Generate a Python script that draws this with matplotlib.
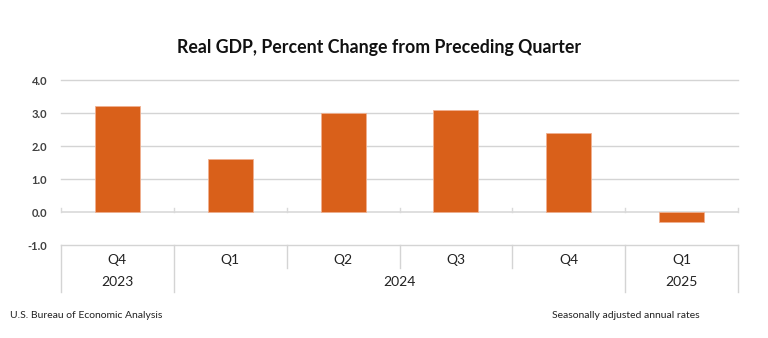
import matplotlib
matplotlib.use("Agg")
import matplotlib.pyplot as plt

plt.rcParams['font.family'] = ['Lato', 'DejaVu Sans']

quarters = ["Q4", "Q1", "Q2", "Q3", "Q4", "Q1"]
years = ["2023", "2024", "2025"]
year_span = [(0, 0), (1, 4), (5, 5)]   # first and last quarter index of each year
values = [3.2, 1.6, 3.0, 3.1, 2.4, -0.3]
yticks = [-1.0, 0.0, 1.0, 2.0, 3.0, 4.0]

bar_color = "#D9601A"
grid_color = "#D4D4D4"
text_color = "#222222"

fig = plt.figure(figsize=(7.68, 3.38), dpi=100)
ax = fig.add_axes([61 / 768, 1 - 245 / 338, 677 / 768, 165 / 338])

x = list(range(len(values)))
ax.bar(x, values, width=0.4, color=bar_color, edgecolor="#F0B090", linewidth=0.6, zorder=3)

ax.set_xlim(-0.5, len(values) - 0.5)
ax.set_ylim(-1, 4)
for s in ax.spines.values():
    s.set_visible(False)

# gridlines
for t in yticks:
    if t == 0:
        continue
    ax.axhline(t, color=grid_color, lw=1.0, zorder=1, clip_on=False)
ax.axhline(0, color="#D9D9D9", lw=1.2, zorder=2)

ax.set_yticks(yticks)
ax.set_yticklabels([f"{t:.1f}" for t in yticks], fontsize=8, fontweight="bold", color="#404040")
ax.tick_params(axis="y", length=0, pad=10)
ax.set_xticks([])

# category tick marks above zero line
for i in range(len(values) + 1):
    xb = i - 0.5
    ax.plot([xb, xb], [0, 0.12], color="#D9D9D9", lw=1.0, zorder=2, clip_on=False)

# table below the axes
row1 = -1 - 23 / 33
row2 = -1 - 47 / 33
year_edges = [a - 0.5 for a, b in year_span] + [len(values) - 0.5]
for i in range(len(values) + 1):
    xb = i - 0.5
    bottom = row2 if xb in year_edges else row1
    ax.plot([xb, xb], [-1, bottom], color=grid_color, lw=1.0, clip_on=False)

for i, q in enumerate(quarters):
    ax.text(i, -1 - 15 / 33, q, ha="center", va="center", fontsize=10, color=text_color)
for yr, (a, b) in zip(years, year_span):
    ax.text((a + b) / 2, -1 - 37 / 33, yr, ha="center", va="center", fontsize=10, color=text_color)

fig.text(0.494, 1 - 48 / 338, "Real GDP, Percent Change from Preceding Quarter",
         ha="center", va="center", fontsize=12.8, fontweight="bold", color="#111111")
fig.text(10 / 768, 1 - 316 / 338, "U.S. Bureau of Economic Analysis",
         ha="left", va="center", fontsize=7.5, color=text_color)
fig.text(552 / 768, 1 - 316 / 338, "Seasonally adjusted annual rates",
         ha="left", va="center", fontsize=7.5, color=text_color)

fig.savefig("out.png", dpi=100, facecolor="white")
